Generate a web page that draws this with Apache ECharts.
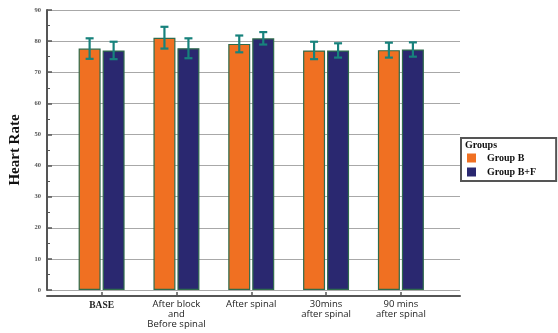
<!DOCTYPE html>
<html>
<head>
<meta charset="utf-8">
<script src="https://cdn.jsdelivr.net/npm/echarts@6/dist/echarts.min.js"></script>
<style>
  html, body { margin: 0; padding: 0; background: #fff; }
  #chart { width: 558px; height: 333px; }
</style>
</head>
<body>
<div id="chart"></div>
<script>
// Heart rate by time point, mean with SD, for the two study groups
var categories = ['BASE', 'After block\nand\nBefore spinal', 'After spinal', '30mins\nafter spinal', '90 mins\nafter spinal'];
var groupNames = ['Group B', 'Group B+F'];
var groupBMean = [77.6, 81.1, 79.1, 77.0, 77.1];
var groupBSd = [3.3, 3.5, 2.7, 2.8, 2.4];
var groupBFMean = [77.0, 77.7, 80.9, 77.0, 77.3];
var groupBFSd = [2.8, 3.2, 2.0, 2.3, 2.3];
var yTicks = [0, 10, 20, 30, 40, 50, 60, 70, 80, 90];

var orange = '#F07022';
var navy = '#2A2870';
var edge = '#2F6B4C';
var whisker = '#17827C';
var BAR_W = 22;
var OFFSET = 12;

function barData(means) {
  return means.map(function (v, i) { return [i, v]; });
}
function errData(means, sds) {
  return means.map(function (v, i) { return [i, v - sds[i], v + sds[i]]; });
}
function errorRenderer(shift) {
  return function (params, api) {
    var lo = api.coord([api.value(0), api.value(1)]);
    var hi = api.coord([api.value(0), api.value(2)]);
    var x = lo[0] + shift;
    var cap = 4;
    var style = { stroke: whisker, lineWidth: 2.2 };
    return {
      type: 'group',
      children: [
        { type: 'line', shape: { x1: x, y1: hi[1], x2: x, y2: lo[1] }, style: style },
        { type: 'line', shape: { x1: x - cap, y1: hi[1], x2: x + cap, y2: hi[1] }, style: style },
        { type: 'line', shape: { x1: x - cap, y1: lo[1], x2: x + cap, y2: lo[1] }, style: style }
      ]
    };
  };
}

var chart = echarts.init(document.getElementById('chart'), null, { renderer: 'canvas' });
chart.setOption({
  animation: false,
  backgroundColor: '#ffffff',
  title: {
    text: 'Groups',
    left: 465,
    top: 140,
    padding: 0,
    textStyle: { fontFamily: 'Liberation Serif', fontWeight: 'bold', fontSize: 10, color: '#111' }
  },
  legend: {
    data: groupNames,
    orient: 'vertical',
    left: 461,
    top: 138,
    padding: [15, 20, 4, 6],
    itemWidth: 9,
    itemHeight: 9,
    itemGap: 4,
    borderColor: '#555',
    borderWidth: 2,
    borderRadius: 0,
    icon: 'rect',
    itemStyle: { borderWidth: 0 },
    textStyle: {
      fontFamily: 'Liberation Serif', fontWeight: 'bold', fontSize: 10, color: '#111',
      padding: [0, 0, 0, 6]
    }
  },
  grid: { left: 44, right: 98, top: 10, bottom: 43, containLabel: false },
  xAxis: {
    type: 'value',
    min: -0.73,
    max: 4.79,
    offset: 6,
    splitLine: { show: false },
    axisLine: { show: true, onZero: false, lineStyle: { color: '#555', width: 2 } },
    axisTick: { show: true, inside: true, length: 4, customValues: [0, 1, 2, 3, 4], lineStyle: { color: '#555', width: 1.5 } },
    axisLabel: {
      customValues: [0, 1, 2, 3, 4],
      margin: 3,
      lineHeight: 10,
      formatter: function (v) {
        var i = Math.round(v);
        return i === 0 ? '{b|' + categories[i] + '}' : categories[i];
      },
      fontFamily: 'Open Sans',
      fontSize: 9.5,
      color: '#222',
      rich: {
        b: { fontFamily: 'Liberation Serif', fontWeight: 'bold', fontSize: 9.5, color: '#222', padding: [3, 0, 0, 0] }
      }
    }
  },
  yAxis: {
    type: 'value',
    min: 0,
    max: 90,
    interval: 10,
    name: 'Heart Rate',
    nameLocation: 'middle',
    nameGap: 24,
    nameTextStyle: { fontFamily: 'Liberation Serif', fontWeight: 'bold', fontSize: 15, color: '#111' },
    axisLine: { show: true, onZero: false, lineStyle: { color: '#555', width: 2 } },
    axisTick: { show: true, inside: true, length: 5, lineStyle: { color: '#555', width: 1.5 } },
    minorTick: { show: true, splitNumber: 2, length: 3, lineStyle: { color: '#555', width: 1 } },
    axisLabel: {
      margin: 6,
      formatter: function (v) { return yTicks.indexOf(v) >= 0 ? String(v) : ''; },
      fontFamily: 'Liberation Serif', fontWeight: 'bold', fontSize: 6.5, color: '#555'
    },
    splitLine: { show: true, lineStyle: { color: '#a8a8a8', width: 1 } }
  },
  series: [
    {
      name: groupNames[0],
      type: 'bar',
      data: barData(groupBMean),
      barWidth: BAR_W,
      barGap: '9%',
      itemStyle: { color: orange, borderColor: edge, borderWidth: 1.2 }
    },
    {
      name: groupNames[1],
      type: 'bar',
      data: barData(groupBFMean),
      barWidth: BAR_W,
      barGap: '9%',
      itemStyle: { color: navy, borderColor: edge, borderWidth: 1.2 }
    },
    {
      type: 'custom',
      data: errData(groupBMean, groupBSd),
      renderItem: errorRenderer(-OFFSET),
      encode: { x: 0, y: [1, 2] },
      z: 5
    },
    {
      type: 'custom',
      data: errData(groupBFMean, groupBFSd),
      renderItem: errorRenderer(OFFSET),
      encode: { x: 0, y: [1, 2] },
      z: 5
    }
  ]
});
</script>
</body>
</html>
